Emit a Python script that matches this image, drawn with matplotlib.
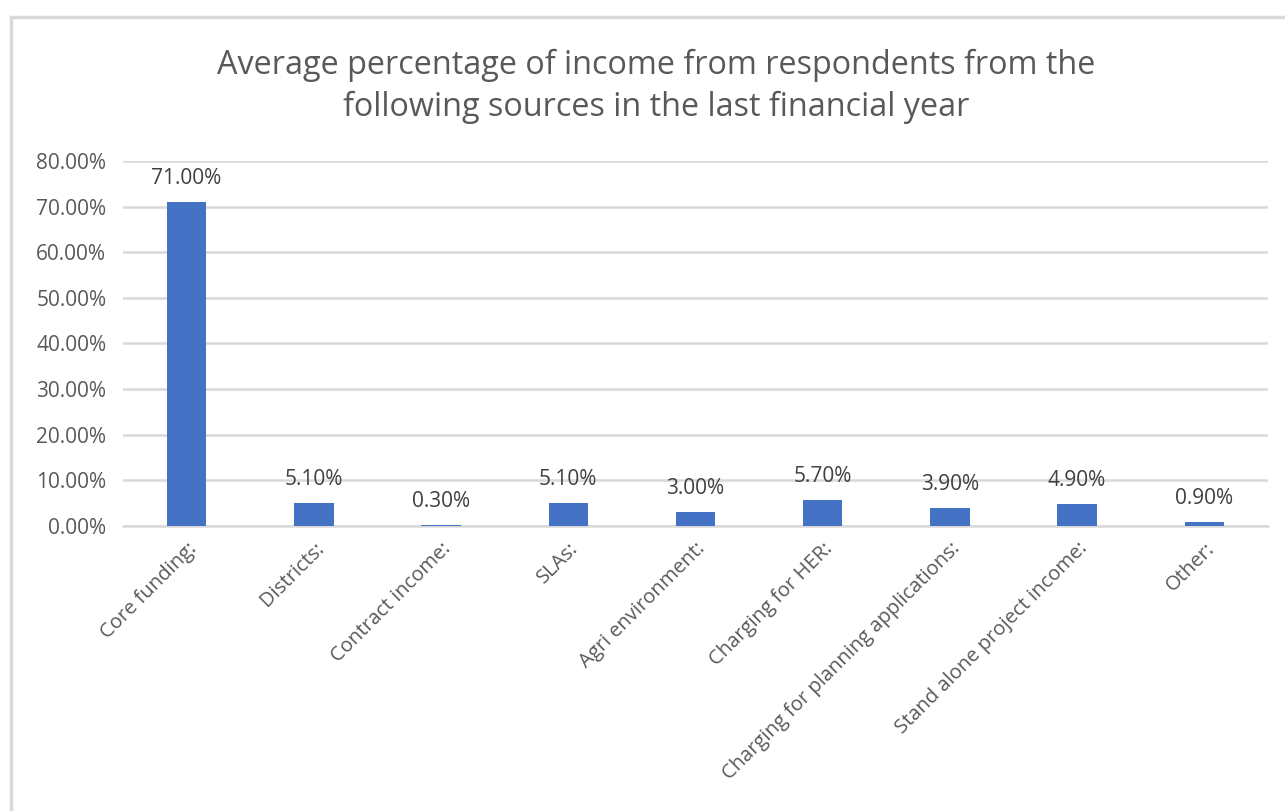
import matplotlib
matplotlib.use("Agg")
import matplotlib.pyplot as plt
from matplotlib.patches import Rectangle
from matplotlib.ticker import FuncFormatter, MultipleLocator

sources = ["Core funding:", "Districts:", "Contract income:", "SLAs:",
           "Agri environment:", "Charging for HER:",
           "Charging for planning applications:",
           "Stand alone project income:", "Other:"]
avg_pct = [71.0, 5.1, 0.3, 5.1, 3.0, 5.7, 3.9, 4.9, 0.9]

title = ("Average percentage of income from respondents from the\n"
         "following sources in the last financial year")

plt.rcParams["font.family"] = ["Open Sans", "DejaVu Sans"]
text_col = "#595959"
grid_col = "#D9D9D9"
bar_col = "#4472C4"

fig = plt.figure(figsize=(12.85, 8.11), dpi=100)
ax = fig.add_axes([0.0957, 0.3514, 0.891, 0.4501])

# chart area frame
fig.patches.append(Rectangle((11 / 1285, -0.1), 1.2, 1.1 - 17 / 811,
                             transform=fig.transFigure, fill=False,
                             edgecolor=grid_col, linewidth=2.5))

x = list(range(len(sources)))
bars = ax.bar(x, avg_pct, width=0.31, color=bar_col, zorder=3)
for b, v in zip(bars, avg_pct):
    ax.annotate("%.2f%%" % v, (b.get_x() + b.get_width() / 2, v),
                xytext=(0, 17), textcoords="offset points",
                ha="center", va="center", fontsize=15, color="#404040")

ax.set_xlim(-0.5, len(sources) - 0.5)
ax.set_ylim(0, 80)
ax.yaxis.set_major_locator(MultipleLocator(10))
ax.yaxis.set_major_formatter(FuncFormatter(lambda v, p: "%.2f%%" % v))
ax.grid(axis="y", color=grid_col, linewidth=1.8, zorder=0)
for s in ["top", "right", "left"]:
    ax.spines[s].set_visible(False)
ax.spines["bottom"].set_color(grid_col)
ax.spines["bottom"].set_linewidth(1.8)
ax.tick_params(axis="both", length=0, colors=text_col)
ax.tick_params(axis="y", labelsize=15, pad=12)
ax.tick_params(axis="x", labelsize=14.5, pad=9)
ax.set_xticks(x)
ax.set_xticklabels(sources, rotation=45, ha="right", rotation_mode="anchor")

fig.text(0.5105, 0.8935, title, ha="center", va="center", fontsize=23.3,
         color=text_col, linespacing=1.32)

fig.savefig("out.png", dpi=100)
